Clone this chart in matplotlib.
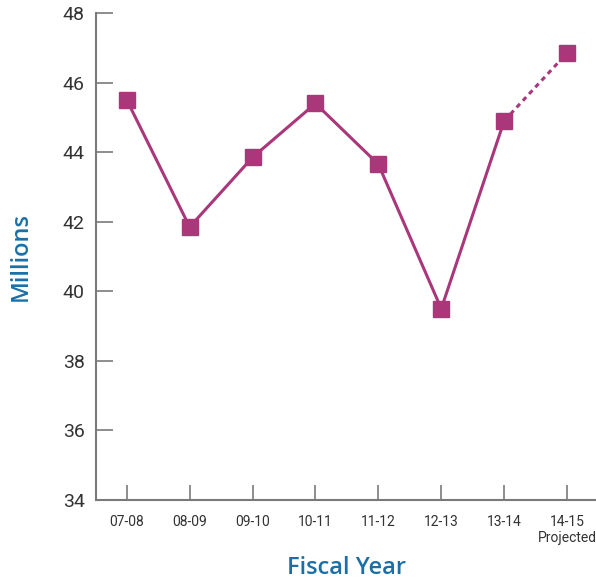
import matplotlib
matplotlib.use("Agg")
import matplotlib.pyplot as plt

years = ["07-08", "08-09", "09-10", "10-11", "11-12", "12-13", "13-14", "14-15"]
year_labels = ["07-08", "08-09", "09-10", "10-11", "11-12", "12-13", "13-14", "14-15\nProjected"]
millions = [45.5, 41.85, 43.85, 45.4, 43.65, 39.5, 44.9, 46.85]
y_ticks = [34, 36, 38, 40, 42, 44, 46, 48]

line_color = "#aa377a"
label_color = "#1a70a6"
axis_color = "#7a7a7a"
text_color = "#333333"
tick_font = "Roboto"

fig = plt.figure(figsize=(5.96, 5.81), dpi=100)
ax = fig.add_axes([0.161, 0.1394, 0.839, 0.8382])

x = list(range(len(years)))
n_actual = len(years) - 1

ax.plot(x[:n_actual], millions[:n_actual], color=line_color, lw=2.2, zorder=2)
ax.plot(x[n_actual - 1:], millions[n_actual - 1:], color=line_color, lw=2.2,
        linestyle=(0, (1.6, 1.4)), zorder=2)
ax.plot(x, millions, linestyle="none", marker="s", markersize=11.5,
        color=line_color, zorder=3)

ax.set_xlim(-0.49, 7.46)
ax.set_ylim(34, 48)
ax.set_yticks(y_ticks)
ax.set_xticks(x)
ax.set_xticklabels(year_labels)

for s in ["top", "right"]:
    ax.spines[s].set_visible(False)
for s in ["left", "bottom"]:
    ax.spines[s].set_color(axis_color)
    ax.spines[s].set_linewidth(1.5)

ax.tick_params(axis="y", direction="in", length=12, width=1.2, color=axis_color,
               pad=8, labelsize=14, labelcolor=text_color)
ax.tick_params(axis="x", direction="in", length=11, width=1.2, color=axis_color,
               pad=11, labelsize=10, labelcolor=text_color)
for lbl in ax.get_yticklabels() + ax.get_xticklabels():
    lbl.set_fontfamily(tick_font)
for lbl in ax.get_xticklabels():
    lbl.set_linespacing(1.2)

fig.text(0.035, 0.558, "Millions", rotation=90, ha="center", va="center",
         color=label_color, fontsize=17, fontweight="semibold", family="Open Sans")
fig.text(0.581, 0.022, "Fiscal Year", ha="center", va="center",
         color=label_color, fontsize=17, fontweight="semibold", family="Open Sans")

fig.savefig("out.png", dpi=100)
